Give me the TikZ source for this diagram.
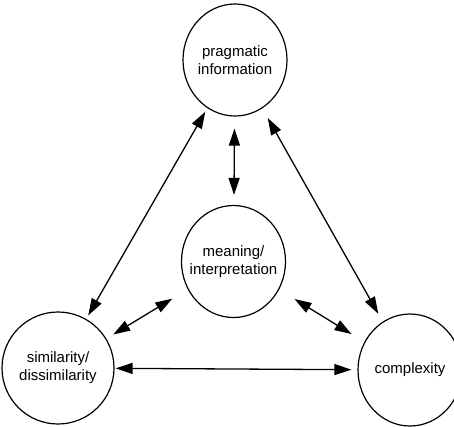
\documentclass[tikz,border=0pt]{standalone}
\usepackage{fontspec}
\setmainfont{Liberation Sans}
\usetikzlibrary{shapes.geometric, arrows.meta}

\tikzset{
  blob/.style={draw, ellipse, line width=1.2pt, minimum width=104pt, minimum height=112pt, inner sep=0pt},
  link/.style={{Triangle[length=17pt,width=11pt]}-{Triangle[length=17pt,width=11pt]}, line width=1.3pt},
  every label/.style={align=center, font=\fontsize{15}{18}\selectfont},
}

\begin{document}
\begin{tikzpicture}[x=1pt, y=-1pt]
    \useasboundingbox (0,0) rectangle (454,426);

    \node[blob, label={center:pragmatic\\information}]               (prag)    at (235,60)    {};
    \node[blob, label={center:meaning/\\interpretation}]             (meaning) at (233.5,261.5) {};
    \node[blob, minimum width=112pt, label={center:similarity/\\dissimilarity}] (simil) at (58,368) {};
    \node[blob, label={center:complexity}]                            (complex) at (410,370)   {};

    \draw[link, shorten <=4pt,  shorten >=4pt]  (prag)    -- (simil);
    \draw[link, shorten <=11pt, shorten >=9pt]  (prag)    -- (complex);
    \draw[link, shorten <=12pt, shorten >=10pt] (prag)    -- (meaning);
    \draw[link, shorten <=18pt, shorten >=8pt]  (meaning) -- (simil);
    \draw[link, shorten <=18pt, shorten >=15pt] (meaning) -- (complex);
    \draw[link, shorten <=1pt,  shorten >=6pt]  (simil)   -- (complex);
\end{tikzpicture}
\end{document}
